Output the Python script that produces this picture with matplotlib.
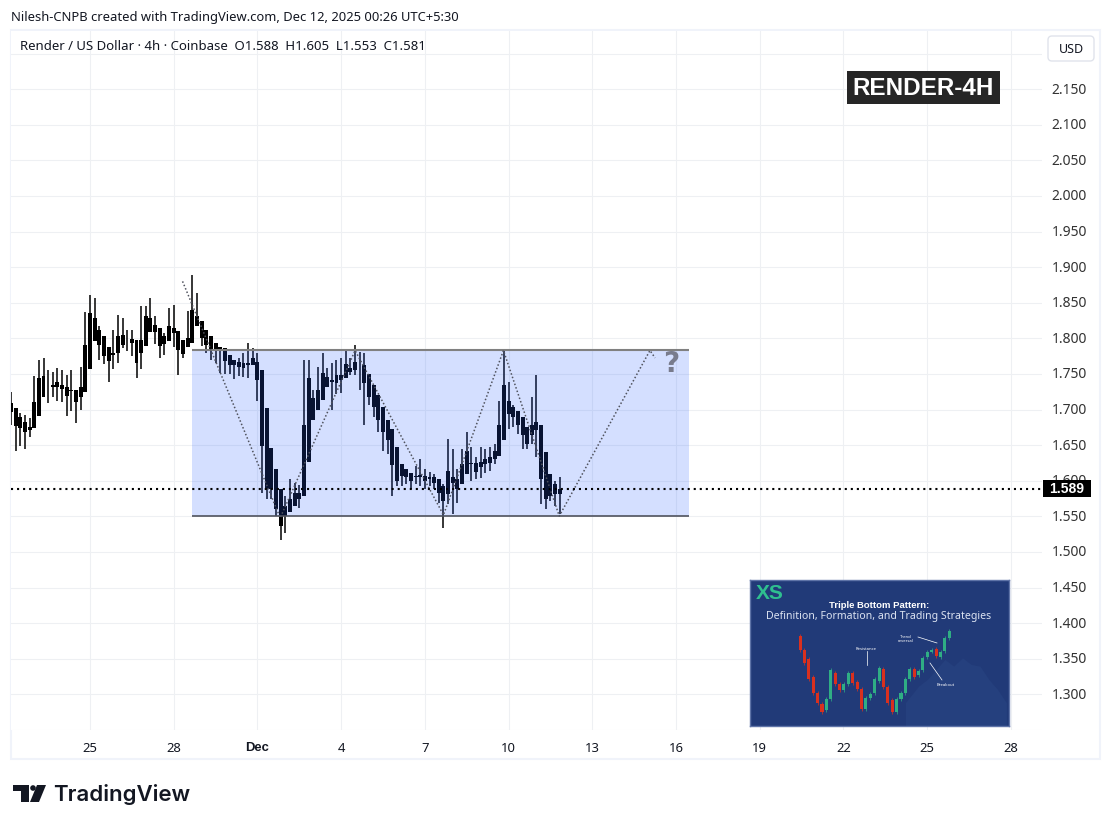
import matplotlib
matplotlib.use("Agg")
import matplotlib.pyplot as plt
from matplotlib.patches import Rectangle, FancyBboxPatch, Polygon, Circle
from matplotlib.transforms import ScaledTranslation
import numpy as np

W = 1111
H = 828

## bars are 4h, index 0 = Nov 25 00:00
first_bar = -17
body_top = [1.709, 1.702, 1.690, 1.683, 1.676, 1.710, 1.744, 1.747, 1.732, 1.734,
            1.738, 1.735, 1.732, 1.727, 1.727, 1.731, 1.790, 1.835, 1.828, 1.812,
            1.803, 1.788, 1.780, 1.803, 1.805, 1.798, 1.799, 1.797, 1.798, 1.831,
            1.828, 1.819, 1.814, 1.803, 1.818, 1.815, 1.811, 1.798, 1.800, 1.840,
            1.832, 1.825, 1.812, 1.803, 1.793, 1.788, 1.786, 1.777, 1.770, 1.767,
            1.765, 1.765, 1.772, 1.767, 1.756, 1.702, 1.646, 1.617, 1.589, 1.564,
            1.575, 1.583, 1.583,
            1.678, 1.745, 1.716, 1.728, 1.752, 1.746, 1.741, 1.748, 1.749, 1.764,
            1.759, 1.767, 1.763, 1.763, 1.750, 1.735, 1.720, 1.704, 1.686, 1.672,
            1.647, 1.624, 1.616, 1.611, 1.606, 1.608, 1.606, 1.605, 1.605, 1.602,
            1.593, 1.614, 1.605, 1.602, 1.623, 1.642, 1.625, 1.625, 1.627, 1.631,
            1.634, 1.642, 1.679, 1.735, 1.712, 1.704, 1.698, 1.689, 1.676, 1.679,
            1.682, 1.678, 1.641, 1.609, 1.595, 1.588]
body_bottom = [1.696, 1.677, 1.674, 1.668, 1.671, 1.674, 1.691, 1.717, 1.731, 1.731,
               1.732, 1.729, 1.719, 1.726, 1.710, 1.717, 1.724, 1.757, 1.796, 1.790,
               1.775, 1.768, 1.777, 1.779, 1.790, 1.797, 1.793, 1.765, 1.780, 1.789,
               1.809, 1.809, 1.789, 1.792, 1.796, 1.807, 1.783, 1.778, 1.788, 1.793,
               1.817, 1.800, 1.790, 1.783, 1.782, 1.782, 1.768, 1.762, 1.762, 1.760,
               1.759, 1.762, 1.762, 1.742, 1.649, 1.589, 1.589, 1.561, 1.536, 1.550,
               1.556, 1.564, 1.574,
               1.579, 1.627, 1.685, 1.700, 1.713, 1.731, 1.739, 1.737, 1.742, 1.745,
               1.753, 1.756, 1.762, 1.737, 1.718, 1.703, 1.686, 1.668, 1.657, 1.622,
               1.599, 1.607, 1.605, 1.599, 1.605, 1.605, 1.600, 1.603, 1.597, 1.583,
               1.572, 1.582, 1.597, 1.589, 1.595, 1.609, 1.623, 1.613, 1.619, 1.623,
               1.625, 1.630, 1.635, 1.657, 1.694, 1.690, 1.678, 1.664, 1.651, 1.664,
               1.671, 1.603, 1.574, 1.579, 1.581, 1.581]
highs = [1.724, 1.702, 1.695, 1.692, 1.688, 1.747, 1.770, 1.773, 1.756, 1.753,
         1.758, 1.755, 1.749, 1.756, 1.727, 1.760, 1.837, 1.861, 1.857, 1.818,
         1.803, 1.788, 1.812, 1.833, 1.829, 1.812, 1.812, 1.797, 1.846, 1.846,
         1.857, 1.831, 1.814, 1.808, 1.843, 1.847, 1.811, 1.798, 1.838, 1.889,
         1.864, 1.825, 1.812, 1.803, 1.794, 1.788, 1.786, 1.777, 1.770, 1.772,
         1.779, 1.794, 1.786, 1.780, 1.756, 1.702, 1.646, 1.617, 1.589, 1.579,
         1.603, 1.597, 1.594,
         1.769, 1.770, 1.728, 1.760, 1.780, 1.759, 1.765, 1.770, 1.773, 1.784,
         1.773, 1.791, 1.781, 1.780, 1.750, 1.735, 1.720, 1.704, 1.686, 1.672,
         1.647, 1.624, 1.616, 1.611, 1.621, 1.631, 1.616, 1.613, 1.609, 1.602,
         1.595, 1.659, 1.645, 1.616, 1.644, 1.669, 1.647, 1.634, 1.647, 1.644,
         1.647, 1.651, 1.712, 1.783, 1.738, 1.707, 1.698, 1.689, 1.676, 1.717,
         1.748, 1.678, 1.641, 1.609, 1.600, 1.605]
lows = [1.678, 1.642, 1.649, 1.644, 1.661, 1.674, 1.691, 1.717, 1.709, 1.717,
        1.712, 1.710, 1.691, 1.698, 1.681, 1.699, 1.724, 1.757, 1.796, 1.769,
        1.764, 1.738, 1.757, 1.766, 1.786, 1.782, 1.775, 1.745, 1.757, 1.789,
        1.809, 1.792, 1.772, 1.776, 1.796, 1.788, 1.748, 1.772, 1.788, 1.793,
        1.817, 1.789, 1.780, 1.770, 1.765, 1.752, 1.750, 1.750, 1.743, 1.747,
        1.746, 1.745, 1.762, 1.712, 1.583, 1.575, 1.574, 1.550, 1.517, 1.527,
        1.556, 1.564, 1.562,
        1.579, 1.627, 1.685, 1.700, 1.713, 1.731, 1.700, 1.722, 1.723, 1.745,
        1.749, 1.749, 1.728, 1.679, 1.707, 1.690, 1.668, 1.642, 1.637, 1.578,
        1.592, 1.592, 1.595, 1.588, 1.595, 1.592, 1.588, 1.592, 1.589, 1.569,
        1.533, 1.567, 1.554, 1.569, 1.595, 1.609, 1.599, 1.603, 1.604, 1.611,
        1.614, 1.624, 1.635, 1.657, 1.673, 1.676, 1.665, 1.645, 1.644, 1.651,
        1.634, 1.567, 1.561, 1.572, 1.565, 1.553]
last_price = 1.589

## drawings
box_x = [22, 128.8]
box_y = [1.55, 1.783]
path_x = [19.9, 40.9, 57, 76, 88.9, 100.9, 120.4, 121.5]
path_y = [1.880, 1.548, 1.783, 1.552, 1.783, 1.5504, 1.783, 1.7725]

price_ticks = [round(1.25 + 0.05 * i, 2) for i in range(20)]
day_ticks = [0, 18, 36, 54, 72, 90, 108, 126, 144, 162, 180, 198]
day_labels = ["25", "28", "Dec", "4", "7", "10", "13", "16", "19", "22", "25", "28"]

## thumbnail candles (its own scale, 0 at top of the crop)
thumb_top = [200, 240, 268, 322, 370, 405, 388, 302, 312, 345, 345, 310, 312, 338, 358, 386, 375,
             330, 296, 298, 352, 392, 390, 372, 330, 298, 300, 304, 265, 248, 240, 238, 246, 205, 183]
thumb_bot = [240, 282, 330, 372, 400, 427, 422, 388, 345, 362, 362, 345, 340, 360, 418, 420, 385,
             372, 335, 352, 400, 428, 428, 388, 370, 330, 322, 318, 302, 262, 246, 260, 262, 245, 205]
thumb_up = [0, 0, 0, 0, 0, 0, 1, 1, 0, 0, 1, 1, 0, 0, 0, 1, 1,
            1, 1, 0, 0, 0, 1, 1, 1, 1, 0, 1, 1, 1, 1, 0, 1, 1, 1]
haze_x = [24, 27, 29, 31, 33, 35, 37, 39, 41, 43, 45, 47]
haze_top = [400, 350, 330, 300, 270, 290, 265, 285, 290, 330, 360, 400]


def px_box(x0, y0, x1, y1):
    return [x0 / W, 1 - y1 / H, (x1 - x0) / W, (y1 - y0) / H]


plt.rcParams['font.family'] = ['Noto Sans', 'DejaVu Sans']
BOLD = "Liberation Sans"
fig = plt.figure(figsize=(W / 100, H / 100), dpi=100, facecolor="white")

## page furniture, in pixels
bg = fig.add_axes([0, 0, 1, 1])
bg.set_xlim(0, W)
bg.set_ylim(H, 0)
bg.axis("off")
bg.add_patch(Rectangle((11, 31), 1089, 729, fc="none", ec="#f0f3fa", lw=1.5))
bg.text(11, 17, "Nilesh-CNPB created with TradingView.com, Dec 12, 2025 00:26 UTC+5:30",
        fontsize=9.35, color="#131722", va="center")

## TV logo
bg.add_patch(Polygon([(13, 786), (29, 786), (29, 803), (21, 803), (21, 792), (13, 792)], fc="#131722", ec="none"))
bg.add_patch(Circle((33, 789), 2.8, fc="#131722", ec="none"))
bg.add_patch(Polygon([(37, 786), (46, 786), (39, 803), (30, 803)], fc="#131722", ec="none"))
bg.text(53, 795, "TradingView", fontsize=16, family="Inter", weight="semibold", color="#131722", va="center")

ax = fig.add_axes(px_box(11, 32, 1042, 731))
ax.set_xlim(-16.99, 204.7)
ax.set_ylim(1.2513, 2.2316)
for s in ax.spines.values():
    s.set_visible(False)
ax.set_xticks(day_ticks)
ax.set_xticklabels(day_labels, fontsize=9.4, color="#131722")
ax.get_xticklabels()[2].set_family(BOLD)
ax.get_xticklabels()[2].set_weight("bold")
ax.yaxis.tick_right()
ax.set_yticks(price_ticks)
ax.set_yticklabels(["" if p < 1.3 or p > 2.15 else f"{p:.3f}" for p in price_ticks],
                   fontsize=10, color="#333333")
ax.tick_params(length=0)
ax.tick_params(axis="x", pad=8)
ax.tick_params(axis="y", pad=7)
nudge = ScaledTranslation(0, 1.5 / 72, fig.dpi_scale_trans)
for lab in ax.get_yticklabels():
    lab.set_transform(lab.get_transform() + nudge)
ax.grid(True, color="#eef0f3", lw=0.8)
ax.set_axisbelow(True)

## candles
bars = first_bar + np.arange(len(highs))
ax.vlines(bars, lows, highs, color="black", lw=1.1, zorder=2)
ax.bar(bars, np.array(body_top) - np.array(body_bottom), bottom=body_bottom, width=0.85,
       color="black", lw=0, zorder=2)

## pattern box sits over the candles
ax.add_patch(Rectangle((box_x[0], box_y[0]), box_x[1] - box_x[0], box_y[1] - box_y[0],
                       fc="#2962ff", alpha=0.2, ec="none", zorder=3))
ax.plot(box_x, [box_y[1], box_y[1]], color="#808080", lw=1.5, zorder=4, solid_capstyle="butt")
ax.plot(box_x, [box_y[0], box_y[0]], color="#50535e", lw=1.2, zorder=4, solid_capstyle="butt")
ax.plot(path_x, path_y, color="#50535e", lw=1.1, ls=(0, (1, 1.4)), zorder=4)
ax.text(125, 1.766, "?", fontsize=20, family="DejaVu Sans", weight="bold", color="#787b8c",
        ha="center", va="center", zorder=4)

## last price
ax.axhline(last_price, color="black", lw=1.5, ls=(0, (1, 1.9)), zorder=5)

## everything that lies on top, in pixels again
top = fig.add_axes([0, 0, 1, 1], facecolor="none", zorder=10)
top.set_xlim(0, W)
top.set_ylim(H, 0)
top.axis("off")
top.add_patch(Rectangle((1043, 481), 48, 17, fc="black", ec="none"))
top.text(1067, 489.5, f"{last_price:.3f}", family=BOLD, color="white", weight="bold", fontsize=10,
         ha="center", va="center")

top.text(20, 47, "Render / US Dollar · 4h · Coinbase  O1.588  H1.605  L1.553  C1.581",
         fontsize=9.5, color="#131722", va="center")
top.add_patch(FancyBboxPatch((1048, 37), 46, 25, boxstyle="round,pad=0,rounding_size=4",
                             fc="white", ec="#e0e3eb", lw=1))
top.text(1071, 49.5, "USD", fontsize=9, color="#131722", ha="center", va="center")
top.add_patch(Rectangle((847, 72), 153, 33, fc="#262626", ec="none"))
top.text(923.5, 88.5, "RENDER-4H", fontsize=17.5, family=BOLD, weight="bold", color="white",
         ha="center", va="center")

## thumbnail
th = fig.add_axes(px_box(750, 581, 1009, 727), facecolor="#213a78", zorder=5)
th.set_xlim(-11.4, 47.6)
th.set_ylim(470, 31)
th.set_xticks([])
th.set_yticks([])
for s in th.spines.values():
    s.set_color("#5f74a8")
    s.set_linewidth(1)
th.fill_between(haze_x, haze_top, 470, color="#25407e", lw=0)
t_x = np.arange(len(thumb_top))
t_col = ["#2fae84" if u else "#d9301e" for u in thumb_up]
t_top = np.array(thumb_top)
t_bot = np.array(thumb_bot)
th.vlines(t_x, t_top - 6, t_bot + 6, color=t_col, lw=0.5)
th.bar(t_x, t_bot - t_top, bottom=t_top, width=0.7, color=t_col, lw=0)
top.text(756, 594, "XS", fontsize=15, family=BOLD, weight="bold", color="#2fbf8f", va="center")
top.text(879, 606, "Triple Bottom Pattern:", fontsize=6.8, family=BOLD, weight="bold", color="white",
         ha="center", va="center")
top.text(879, 617, "Definition, Formation, and Trading Strategies", fontsize=7.6, color="#dde4f2",
         ha="center", va="center")
top.text(866, 649, "Resistance", fontsize=3, color="white", ha="center", va="center")
top.text(906, 639, "Trend\nreversal", fontsize=3, color="white", ha="center", va="center")
top.text(946, 685, "Breakout", fontsize=3, color="white", ha="center", va="center")
top.plot([867, 867], [652, 666], color="white", lw=0.5)
top.plot([918, 937], [638, 644], color="white", lw=0.5)
top.plot([930, 942], [664, 681], color="white", lw=0.5)

fig.savefig("out.png", dpi=100)
